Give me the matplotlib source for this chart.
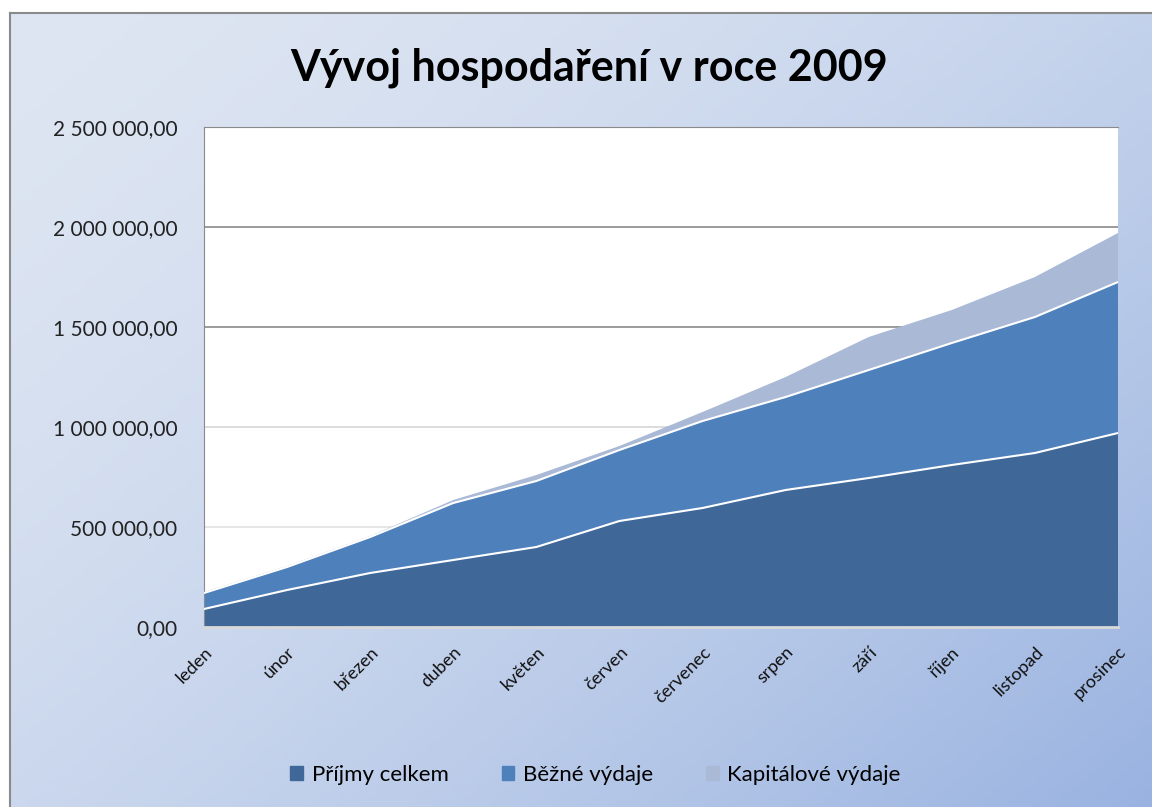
import numpy as np
import matplotlib.pyplot as plt
from matplotlib.patches import Patch

plt.rcParams['font.family'] = ['Lato', 'DejaVu Sans']

months = ['leden', 'únor', 'březen', 'duben', 'květen', 'červen',
          'červenec', 'srpen', 'září', 'říjen', 'listopad', 'prosinec']

# monthly values (stacked)
prijmy = [90000, 185000, 270000, 335000, 400000, 530000,
          595000, 685000, 745000, 810000, 870000, 970000]
bezne = [80000, 115000, 180000, 285000, 330000, 355000,
         435000, 465000, 540000, 610000, 680000, 755000]
kapitalove = [5000, 5000, 5000, 15000, 30000, 20000,
              45000, 100000, 165000, 165000, 200000, 245000]

c_prijmy = '#3f6899'
c_bezne = '#4e80bb'
c_kap = '#a9b9d6'

fig = plt.figure(figsize=(11.52, 8.07), dpi=100)
fig.patch.set_facecolor('white')

# gradient background of the chart area
bg = fig.add_axes([10 / 1152, 0, 1 - 10 / 1152, 1 - 13 / 807])
xx, yy = np.meshgrid(np.linspace(0, 1, 200), np.linspace(0, 1, 200))
t = np.clip(0.55 * xx + 0.45 * yy, 0, 1) ** 1.6
top = np.array([0.87, 0.90, 0.95])
bot = np.array([0.60, 0.70, 0.88])
img = top[None, None, :] * (1 - t[..., None]) + bot[None, None, :] * t[..., None]
bg.imshow(img, aspect='auto', extent=[0, 1, 0, 1], origin='upper')
bg.set_xticks([])
bg.set_yticks([])
for side in ['right', 'bottom']:
    bg.spines[side].set_visible(False)
for side in ['left', 'top']:
    bg.spines[side].set_color('#8a8a8a')
    bg.spines[side].set_linewidth(1.5)

ax = fig.add_axes([204 / 1152, 1 - 627 / 807, 914 / 1152, 500 / 807])
ax.set_facecolor('white')
x = np.arange(len(months))
y1 = np.array(prijmy)
y2 = y1 + np.array(bezne)

for val, col in [(500000, '#e2e2e2'), (1000000, '#d6d6d6'), (1500000, '#8a8a8a'),
                 (2000000, '#8a8a8a'), (2500000, '#8a8a8a')]:
    ax.axhline(val, color=col, lw=1.2, zorder=0)

ax.stackplot(x, prijmy, bezne, kapitalove, colors=[c_prijmy, c_bezne, c_kap],
             zorder=2)
ax.plot(x, y1, color='white', lw=1.5, zorder=3)
ax.plot(x, y2, color='white', lw=1.5, zorder=3)

ax.set_xlim(0, len(months) - 1)
ax.set_ylim(0, 2500000)
ax.set_yticks(np.arange(0, 2500001, 500000))
ax.set_yticklabels(['{:,.2f}'.format(v).replace(',', ' ').replace('.', ',')
                    for v in np.arange(0, 2500001, 500000)],
                   fontsize=15, color='#222222')
ax.set_xticks(x)
ax.set_xticklabels(months, rotation=45, ha='right', va='top',
                   rotation_mode='anchor', fontsize=13, color='#111111')
ax.tick_params(axis='x', length=0, pad=12)
ax.tick_params(axis='y', length=0, pad=19)
ax.spines['right'].set_visible(False)
ax.spines['left'].set_color('#8a8a8a')
ax.spines['top'].set_color('#8a8a8a')
ax.spines['bottom'].set_color('#d9d9d9')
ax.spines['bottom'].set_linewidth(2)

fig.text(0.5117, 1 - 68 / 807, 'Vývoj hospodaření v roce 2009', ha='center',
         va='center', fontsize=31, fontweight='bold', color='black')

handles = [Patch(color=c_prijmy, label='Příjmy celkem'),
           Patch(color=c_bezne, label='Běžné výdaje'),
           Patch(color=c_kap, label='Kapitálové výdaje')]
fig.legend(handles=handles, loc='center', bbox_to_anchor=(0.517, 1 - 775 / 807),
           ncol=3, frameon=False, fontsize=16, handlelength=0.55,
           handleheight=0.55, handletextpad=0.4, columnspacing=2.4)

fig.savefig('out.png', dpi=100)
